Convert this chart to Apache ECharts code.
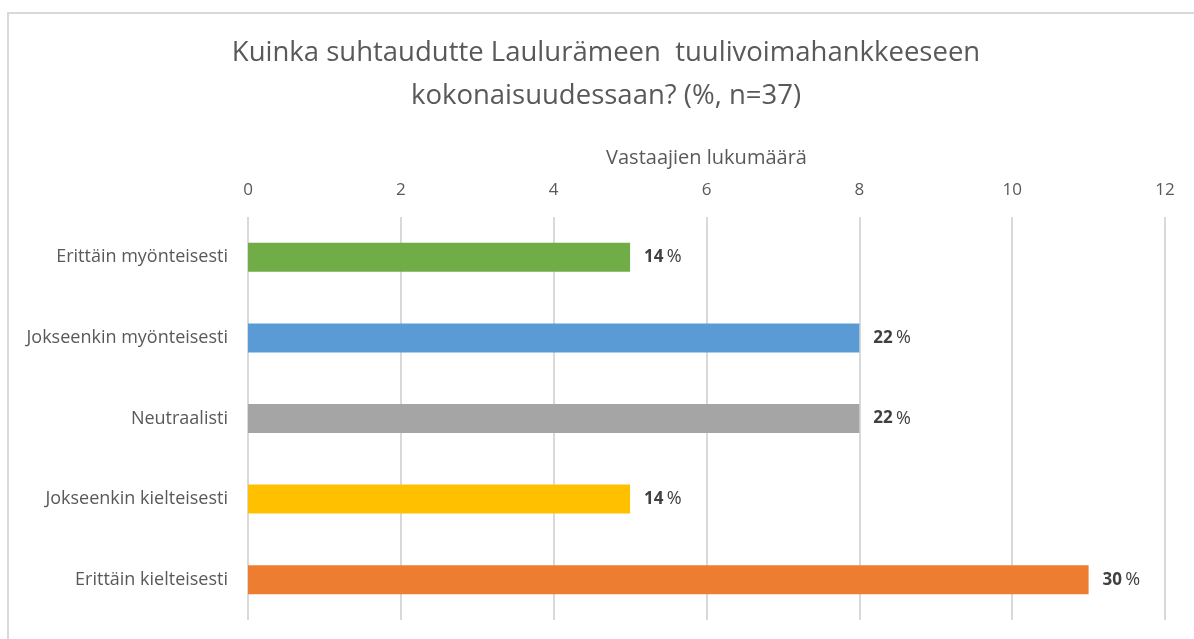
<!DOCTYPE html>
<html>
<head>
<meta charset="utf-8">
<script src="https://cdn.jsdelivr.net/npm/echarts@6/dist/echarts.min.js"></script>
<style>
  html, body { margin: 0; padding: 0; background: #fff; }
  #chart { width: 1194px; height: 639px; }
</style>
</head>
<body>
<div id="chart"></div>
<script>
// vastausvaihtoehdot ylhäältä alas
var categories = [
  'Erittäin myönteisesti',
  'Jokseenkin myönteisesti',
  'Neutraalisti',
  'Jokseenkin kielteisesti',
  'Erittäin kielteisesti'
]
var counts = [5, 8, 8, 5, 11]           // vastaajien lukumäärä
var percents = [14, 22, 22, 14, 30]     // osuus, n=37
var barColors = ['#70ad47', '#5b9bd5', '#a5a5a5', '#ffc000', '#ed7d31']
var xTicks = [0, 12, 2]                 // min, max, interval

var chart = echarts.init(document.getElementById('chart'))

var option = {
  backgroundColor: '#fff',
  textStyle: { fontFamily: 'Open Sans' },
  title: {
    text: 'Kuinka suhtaudutte Laulurämeen  tuulivoimahankkeeseen\nkokonaisuudessaan? (%, n=37)',
    left: 601,
    top: 27,
    textAlign: 'center',
    textStyle: {
      fontFamily: 'Open Sans',
      fontSize: 27.5,
      fontWeight: 'normal',
      color: '#595959',
      lineHeight: 43
    }
  },
  graphic: [{
    // kaavion reunus
    type: 'rect',
    shape: { x: 8, y: 13, width: 1300, height: 700 },
    style: { fill: 'none', stroke: '#d9d9d9', lineWidth: 2 },
    silent: true
  }],
  grid: {
    left: 248,
    right: 29,
    top: 217,
    bottom: 19
  },
  xAxis: {
    type: 'value',
    position: 'top',
    min: xTicks[0],
    max: xTicks[1],
    interval: xTicks[2],
    name: 'Vastaajien lukumäärä',
    nameLocation: 'middle',
    nameGap: 49,
    nameTextStyle: { color: '#595959', fontSize: 20 },
    axisLine: { show: false },
    axisTick: { show: false },
    axisLabel: { color: '#595959', fontSize: 17, margin: 18 },
    splitLine: { lineStyle: { color: '#d9d9d9', width: 2 } }
  },
  yAxis: {
    type: 'category',
    inverse: true,
    data: categories,
    axisLine: { show: false },
    axisTick: { show: false },
    axisLabel: { color: '#595959', fontSize: 18, margin: 20 }
  },
  series: [{
    type: 'bar',
    barCategoryGap: '64%',
    data: counts.map(function (v, i) {
      return { value: v, itemStyle: { color: barColors[i] } }
    }),
    label: {
      show: true,
      position: 'right',
      distance: 14,
      formatter: function (p) {
        return '{n|' + percents[p.dataIndex] + '} {p|%}'
      },
      rich: {
        n: { fontFamily: 'Open Sans', fontSize: 17, fontWeight: 'bold', color: '#404040' },
        p: { fontFamily: 'Open Sans', fontSize: 18, color: '#404040' }
      }
    }
  }]
}

chart.setOption(option)
</script>
</body>
</html>
